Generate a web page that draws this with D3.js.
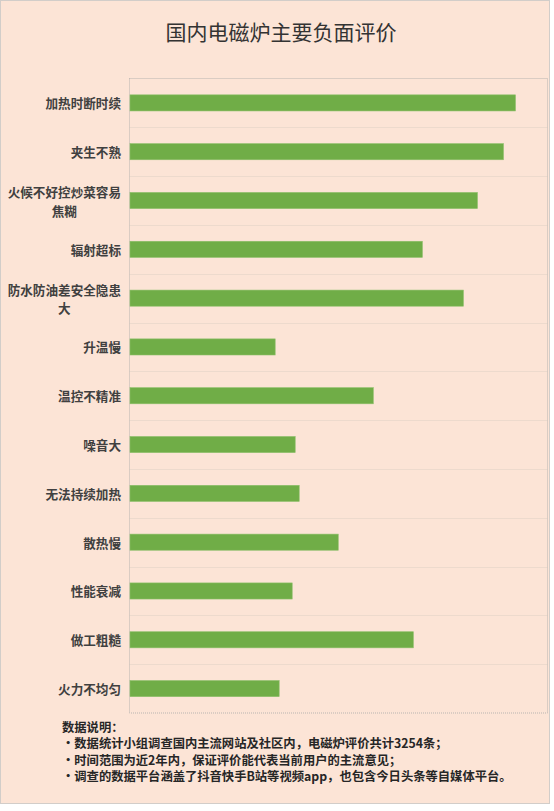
<!DOCTYPE html>
<html>
<head>
<meta charset="utf-8">
<script src="https://cdn.jsdelivr.net/npm/d3@7"></script>
<style>
  body { margin: 0; background: #fff; }
  svg { display: block; font-family: "Noto Sans CJK SC", "Noto Sans", sans-serif; }
</style>
</head>
<body>
<svg id="chart" width="554" height="811"></svg>
<script>
const categories = ["加热时断时续", "夹生不熟", "火候不好控炒菜容易焦糊", "辐射超标", "防水防油差安全隐患大",
  "升温慢", "温控不精准", "噪音大", "无法持续加热", "散热慢", "性能衰减", "做工粗糙", "火力不均匀"];
const counts = [385, 373, 347, 292, 333, 145, 243, 165, 169, 208, 162, 283, 149];
const title = "国内电磁炉主要负面评价";
const notes = [
  "数据说明：",
  "·数据统计小组调查国内主流网站及社区内，电磁炉评价共计3254条；",
  "·时间范围为近2年内，保证评价能代表当前用户的主流意见；",
  "·调查的数据平台涵盖了抖音快手B站等视频app，也包含今日头条等自媒体平台。"
];

const svg = d3.select("#chart");
const plot = { left: 129.5, right: 547.5, top: 78.5, bottom: 713 };

// card background
svg.append("rect")
  .attr("x", 0.5).attr("y", 0.5)
  .attr("width", 549).attr("height", 803)
  .attr("fill", "#fce4d6")
  .attr("stroke", "#d2cdc9");

svg.append("text")
  .attr("x", 281)
  .attr("y", 31)
  .attr("text-anchor", "middle")
  .attr("dominant-baseline", "central")
  .style("font-size", "21px")
  .style("fill", "#333")
  .text(title);

const x = d3.scaleLinear()
  .domain([0, 417])
  .range([plot.left + 0.5, plot.right]);

const y = d3.scaleBand()
  .domain(categories)
  .range([plot.top, plot.bottom])
  .paddingInner(0.67)
  .paddingOuter(0.335);

const yGrid = d3.scaleBand()
  .domain(categories)
  .range([plot.top, plot.bottom]);

// gridlines between rows
svg.append("g")
  .selectAll("line")
  .data(categories.slice(1))
  .join("line")
  .attr("x1", plot.left)
  .attr("x2", plot.right)
  .attr("y1", d => Math.round(yGrid(d)) + 0.5)
  .attr("y2", d => Math.round(yGrid(d)) + 0.5)
  .attr("stroke", "#eddacd");

// plot border
svg.append("rect")
  .attr("x", plot.left).attr("y", plot.top)
  .attr("width", plot.right - plot.left)
  .attr("height", plot.bottom - plot.top)
  .attr("fill", "none")
  .attr("stroke", "#b9b4b0")
  .attr("stroke-dasharray", "1,1");

svg.append("g")
  .selectAll("rect")
  .data(categories)
  .join("rect")
  .attr("x", x(0))
  .attr("y", d => y(d))
  .attr("height", y.bandwidth())
  .attr("width", (d, i) => x(counts[i]) - x(0))
  .attr("fill", "#70ad47")
  .attr("stroke", "#8cbf69")
  .attr("stroke-width", 0.6);

// category labels, wrapped after 9 chars like Excel does
const labelX = 121;
const labels = svg.append("g")
  .style("font-size", "12.6px")
  .style("font-weight", "bold")
  .style("fill", "#404040");

categories.forEach(c => {
  const cy = y(c) + y.bandwidth() / 2;
  const t = labels.append("text")
    .attr("dominant-baseline", "central");
  if (c.length <= 9) {
    t.attr("x", labelX).attr("y", cy)
      .attr("text-anchor", "end")
      .text(c);
  } else {
    const first = t.append("tspan")
      .attr("x", labelX).attr("y", cy - 9.2)
      .attr("text-anchor", "end")
      .text(c.slice(0, 9));
    const w = first.node().getComputedTextLength();
    t.append("tspan")
      .attr("x", labelX - w / 2).attr("y", cy + 9.2)
      .attr("text-anchor", "middle")
      .text(c.slice(9));
  }
});

svg.append("g")
  .selectAll("text")
  .data(notes)
  .join("text")
  .attr("x", 62)
  .attr("y", (d, i) => 727 + i * 16.3)
  .attr("dominant-baseline", "central")
  .style("font-size", "12.3px")
  .style("font-weight", "bold")
  .style("fill", "#262626")
  .text(d => d);
</script>
</body>
</html>
